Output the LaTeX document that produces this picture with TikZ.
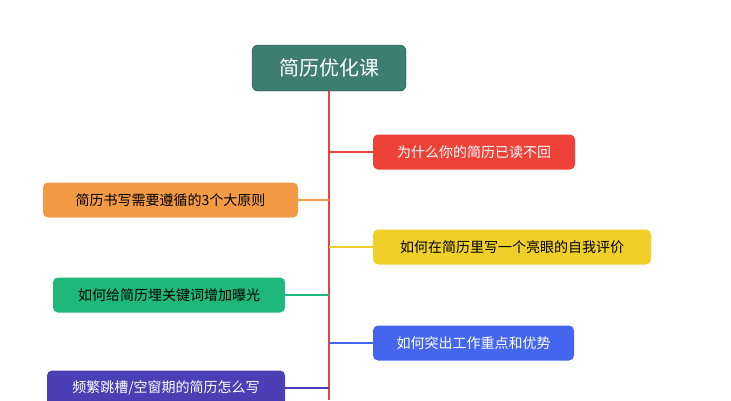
\documentclass[tikz,border=0pt]{standalone}
\usepackage{fontspec}
\setmainfont{Noto Sans CJK SC}
\usetikzlibrary{positioning}
\definecolor{rootcolor}{RGB}{62, 125, 114}
\definecolor{redcolor}{RGB}{238, 65, 55}
\definecolor{orangecolor}{RGB}{243, 154, 69}
\definecolor{yellowcolor}{RGB}{240, 208, 40}
\definecolor{greencolor}{RGB}{30, 184, 122}
\definecolor{bluecolor}{RGB}{68, 102, 238}
\definecolor{purplecolor}{RGB}{75, 63, 181}
\tikzset{
  topic/.style={rounded corners=5pt, minimum height=35pt, inner xsep=10pt, font=\fontsize{14}{16}\selectfont},
  link/.style={line width=2pt}
}
\begin{document}
\begin{tikzpicture}[x=1pt, y=-1pt]
        \useasboundingbox[fill=white] (0,0) rectangle (731,400);
        % Root
        \node[draw=black!80, fill=rootcolor, text=white, rounded corners=6pt, minimum width=154pt, minimum height=46pt, font=\fontsize{20}{24}\selectfont] (root) at (329,68) {简历优化课};
        \coordinate (bottom) at (329,400);
        \draw[link, redcolor] (root.south) -- (bottom);

        % Branches
        \node[topic, fill=redcolor, text=white, minimum width=202pt] (why) at (474,152) {为什么你的简历已读不回};
        \node[topic, fill=orangecolor, text=black, minimum width=255pt] (rules) at (170.5,200) {简历书写需要遵循的3个大原则};
        \node[topic, fill=yellowcolor, text=black, minimum width=278pt] (self) at (512,247) {如何在简历里写一个亮眼的自我评价};
        \node[topic, fill=greencolor, text=black, minimum width=232pt] (keys) at (169,295) {如何给简历埋关键词增加曝光};
        \node[topic, fill=bluecolor, text=white, minimum width=201pt] (focus) at (473.5,343) {如何突出工作重点和优势};
        \node[topic, fill=purplecolor, text=white, minimum width=238pt] (gap) at (166,388) {频繁跳槽/空窗期的简历怎么写};

        % Connections
        \draw[link, redcolor] (why.west) -- (329,152);
        \draw[link, orangecolor] (rules.east) -- (329,200);
        \draw[link, yellowcolor] (self.west) -- (329,247);
        \draw[link, greencolor] (keys.east) -- (329,295);
        \draw[link, bluecolor] (focus.west) -- (329,343);
        \draw[link, purplecolor] (gap.east) -- (329,388);
\end{tikzpicture}
\end{document}
